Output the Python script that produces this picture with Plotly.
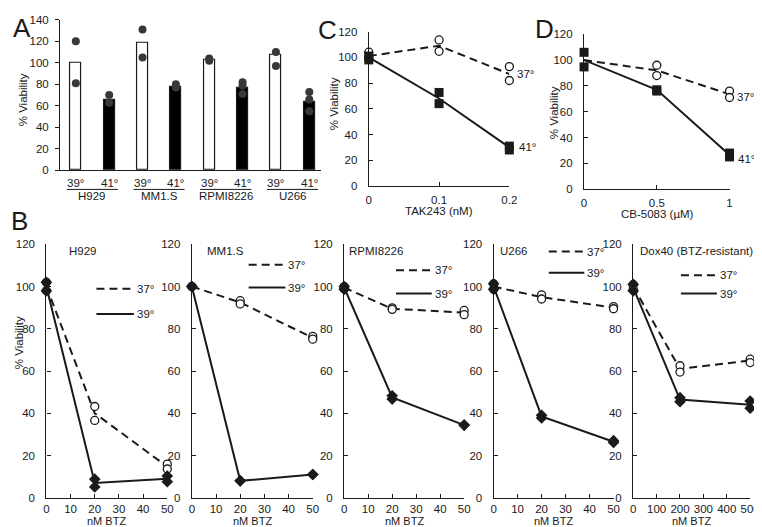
import plotly.graph_objects as go

W, H = 762, 527
FONT = "Arial, Liberation Sans, sans-serif"
INK = "#1a1a1a"

# ---- panel A: bars + replicate dots ----
a_groups = ["H929", "MM1.S", "RPMI8226", "U266"]
a_temps = ["39°", "41°"]
a_bars = [100, 66, 119, 78, 103, 77, 107, 64]
a_points = [[120, 81], [70, 63], [131, 105], [80, 77],
            [104, 102], [82, 79, 71], [110, 97], [73, 66, 55]]

# ---- panel C: TAK243 ----
c_dose = [0, 0.1, 0.2]
c_37_rep = [[104, 99], [113.5, 104.7], [92.8, 82]]
c_37_mean = [101, 109, 87]
c_41_rep = [[101, 98], [72.7, 64], [31, 28]]
c_41_mean = [100, 68, 30]

# ---- panel D: CB-5083 ----
d_dose = [0, 0.5, 1]
d_37_rep = [[], [96, 88], [76, 71]]
d_37_mean = [100, 92, 73.5]
d_41_rep = [[106, 94.7], [77, 76], [28, 25]]
d_41_mean = [100, 77, 26.5]

# ---- panel B: BTZ in five lines ----
b_names = ["H929", "MM1.S", "RPMI8226", "U266", "Dox40 (BTZ-resistant)"]
b_dose = [[0, 20, 50], [0, 20, 50], [0, 20, 50], [0, 20, 50], [0, 200, 500]]
b_37_rep = [
    [[102, 98], [43.2, 36.6], [15.9, 13.6]],
    [[100, 100], [93.3, 91.8], [76.4, 75.1]],
    [[100, 99], [89.9, 89.2], [88.7, 86.7]],
    [[101.3, 98.7], [96.1, 94.1], [90.5, 89.5]],
    [[101, 99], [62.5, 59.5], [65.6, 64]],
]
b_37_mean = [[100, 40, 14.7], [100, 92.5, 75.7], [99.5, 89.5, 87.7],
             [100, 95, 90], [100, 61, 65]]
b_39_rep = [
    [[102, 98], [8.8, 5.1], [10.3, 7.6]],
    [[100, 100], [8, 8], [11, 11]],
    [[100, 98.7], [48.3, 46.7], [34.4, 34.4]],
    [[101.3, 98.7], [39, 37.8], [27, 26.2]],
    [[101, 98], [47.4, 45.5], [45.8, 42.4]],
]
b_39_mean = [[100, 7, 9], [100, 8, 11], [99.5, 47.5, 34.4],
             [100, 38.5, 26.5], [99.5, 46.5, 44]]

# layout (pixels): x0, x1, top, bottom
a_box = (50, 315, 6, 160)
c_box = (364, 507, 18, 176)
d_box = (583, 731, 20.7, 179.3)
b_boxes = [(36, 159), (184, 307), (339, 461), (491, 613), (633, 752)]
b_top, b_bot = 235.7, 495
# in-plot legend per B panel: x start/end (data), y of 37° and 39° rows
b_leg = [(20.7, 36.2, 99, 87), (23.5, 38.7, 110.3, 99.5), (21.6, 36.5, 107.7, 96.7),
         (23, 37.8, 116.6, 106.5), (204, 358, 105.4, 96.7)]
b_label_dx = [21, 13, 3, 4, 5]


def ax_names(i):
    return ("xaxis" if i == 1 else f"xaxis{i}", "yaxis" if i == 1 else f"yaxis{i}",
            "x" if i == 1 else f"x{i}", "y" if i == 1 else f"y{i}")


def py(p):
    return 1 - p / H


fig = go.Figure()
tickfont = dict(family=FONT, size=11.5, color=INK)


def set_axes(i, box, xrange, yrange, xticks, yticks, ydir="inside", show_x=True, xoff=3):
    xa, ya, xr, yr = ax_names(i)
    common = dict(showline=True, linecolor=INK, linewidth=1.3, showgrid=False,
                  zeroline=False, ticklen=4, tickwidth=1.2, tickcolor=INK,
                  tickfont=tickfont)
    fig.update_layout(**{
        xa: dict(common, domain=[box[0] / W, box[1] / W], range=xrange, anchor=yr,
                 tickvals=xticks, ticks="inside" if show_x else "", tickangle=0,
                 showticklabels=show_x, ticklabelstandoff=xoff),
        ya: dict(common, domain=[py(box[3]), py(box[2])], range=yrange, anchor=xr,
                 tickvals=yticks, ticks=ydir,
                 ticklabelstandoff=4 if ydir == "outside" else 8),
    })


def dose_panel(i, dose, rep37, mean37, rep39, mean39, sym39, size39):
    _, _, xr, yr = ax_names(i)
    fig.add_trace(go.Scatter(x=dose, y=mean37, xaxis=xr, yaxis=yr, mode="lines",
                             line=dict(color=INK, width=2, dash="8px,5px"),
                             showlegend=False, hoverinfo="skip"))
    fig.add_trace(go.Scatter(x=dose, y=mean39, xaxis=xr, yaxis=yr, mode="lines",
                             line=dict(color=INK, width=2), showlegend=False,
                             hoverinfo="skip"))
    fig.add_trace(go.Scatter(
        x=[d for d, r in zip(dose, rep37) for _ in r], y=[v for r in rep37 for v in r],
        xaxis=xr, yaxis=yr, mode="markers", cliponaxis=False, showlegend=False,
        marker=dict(symbol="circle", size=8, color="white", line=dict(color=INK, width=1.3))))
    fig.add_trace(go.Scatter(
        x=[d for d, r in zip(dose, rep39) for _ in r], y=[v for r in rep39 for v in r],
        xaxis=xr, yaxis=yr, mode="markers", cliponaxis=False, showlegend=False,
        marker=dict(symbol=sym39, size=size39, color=INK, line=dict(width=0))))


annotations = []
shapes = []


def text(x, y, s, size=11.5, xref="paper", yref="paper", xanchor="center", **kw):
    annotations.append(dict(x=x, y=y, xref=xref, yref=yref, text=s, showarrow=False,
                            xanchor=xanchor, yanchor="middle",
                            font=dict(family=FONT, size=size, color=INK), **kw))


# ---- A ----
a_x = list(range(len(a_bars)))
fig.add_trace(go.Bar(x=a_x, y=a_bars, width=0.33, xaxis="x", yaxis="y", showlegend=False,
                     marker=dict(color=["white" if k % 2 == 0 else "black" for k in a_x],
                                 line=dict(color=INK, width=1.2))))
fig.add_trace(go.Scatter(x=[k for k, p in zip(a_x, a_points) for _ in p],
                         y=[v for p in a_points for v in p], xaxis="x", yaxis="y",
                         mode="markers", cliponaxis=False, showlegend=False,
                         marker=dict(size=8, color="#383838")))
set_axes(1, a_box, [-0.47, 7.34], [0, 140], [], list(range(0, 141, 20)),
         ydir="outside", show_x=False)
for g, name in enumerate(a_groups):
    for t, temp in enumerate(a_temps):
        text(2 * g + t, py(173), temp, xref="x")
    shapes.append(dict(type="line", xref="x", yref="paper", x0=2 * g - 0.27,
                       x1=2 * g + 1.26, y0=py(179.5), y1=py(179.5),
                       line=dict(color=INK, width=1)))
    text(2 * g + 0.5, py(186.5), name, xref="x")
text(12.5 / W, py(88), "% Viability", textangle=-90)
text(11 / W, py(14), "A", size=26)

# ---- C ----
dose_panel(2, c_dose, c_37_rep, c_37_mean, c_41_rep, c_41_mean, "square", 9)
set_axes(2, c_box, [0, 0.2], [0, 120], c_dose, list(range(0, 121, 20)))
fig.update_layout(xaxis2=dict(tickvals=c_dose, ticktext=["0", "0.1", "0.2"]))
text(435 / W, py(202), "TAK243 (nM)")
text(329 / W, py(92), "% Viability", textangle=-90)
text(c_dose[-1], c_37_mean[-1], "37°", xref="x2", yref="y2", xanchor="left", xshift=6)
text(c_dose[-1], c_41_mean[-1], "41°", xref="x2", yref="y2", xanchor="left", xshift=8)
text(322 / W, py(16), "C", size=26)

# ---- D ----
dose_panel(3, d_dose, d_37_rep, d_37_mean, d_41_rep, d_41_mean, "square", 9)
set_axes(3, d_box, [0, 1], [0, 120], d_dose, list(range(0, 121, 20)))
fig.update_layout(xaxis3=dict(ticktext=["0", "0.5", "1"]))
text(658 / W, py(205), "CB-5083 (µM)")
text(552 / W, py(101), "% Viability", textangle=-90)
text(d_dose[-1], d_37_mean[-1] - 2, "37°", xref="x3", yref="y3", xanchor="left", xshift=5)
text(d_dose[-1], d_41_mean[-1] - 3, "41°", xref="x3", yref="y3", xanchor="left", xshift=6)
text(543 / W, py(15), "D", size=26)

# ---- B ----
for k in range(5):
    i = 4 + k
    _, _, xr, yr = ax_names(i)
    dose = b_dose[k]
    dose_panel(i, dose, b_37_rep[k], b_37_mean[k], b_39_rep[k], b_39_mean[k], "diamond", 9)
    step = 10 if dose[-1] == 50 else 100
    set_axes(i, (b_boxes[k][0], b_boxes[k][1], b_top, b_bot), [0, dose[-1]], [0, 120],
             list(range(0, dose[-1] + 1, step)), list(range(0, 121, 20)), xoff=0)
    x0, x1, y37, y39 = b_leg[k]
    shapes.append(dict(type="line", xref=xr, yref=yr, x0=x0, x1=x1, y0=y37, y1=y37,
                       line=dict(color=INK, width=2, dash="8px,5px")))
    shapes.append(dict(type="line", xref=xr, yref=yr, x0=x0, x1=x1, y0=y39, y1=y39,
                       line=dict(color=INK, width=2)))
    text(x1, y37, "37°", xref=xr, yref=yr, xanchor="left", xshift=1)
    text(x1, y39, "39°", xref=xr, yref=yr, xanchor="left", xshift=1)
    text((b_boxes[k][0] + b_label_dx[k]) / W, py(243), b_names[k], xanchor="left")
    text((b_boxes[k][0] + b_boxes[k][1]) / 2 / W, py(519), "nM BTZ", size=11, borderpad=0)
text(9 / W, py(336), "% Viability", textangle=-90)
text(9 / W, py(212), "B", size=26)

fig.update_layout(width=W, height=H, margin=dict(l=0, r=0, t=0, b=0), autosize=False,
                  paper_bgcolor="white", plot_bgcolor="white", bargap=0,
                  annotations=annotations, shapes=shapes, showlegend=False)

fig.write_html("out.html")
